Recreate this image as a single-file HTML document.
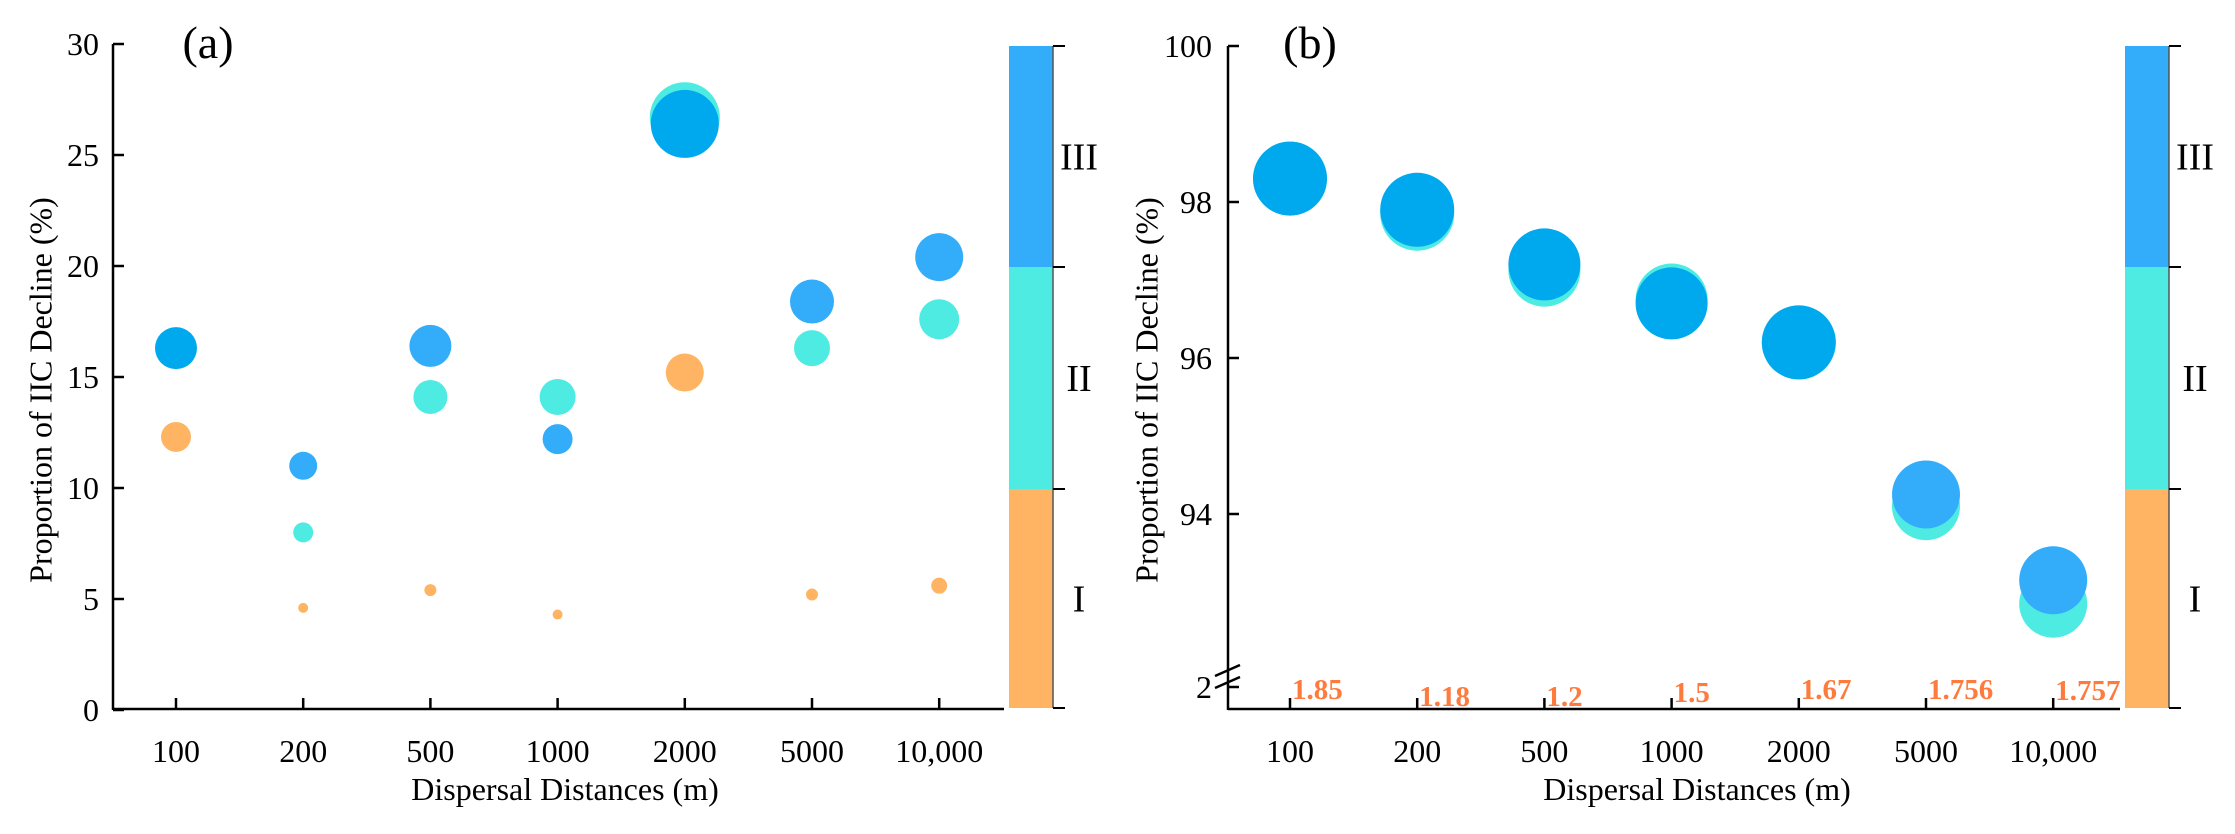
<!DOCTYPE html>
<html><head><meta charset="utf-8"><style>
body{margin:0;background:#fff;}
svg{display:block;font-family:"Liberation Serif",serif;}
</style></head><body>
<svg id="chart" width="2235" height="834" xmlns="http://www.w3.org/2000/svg"></svg>
<script>
const categories = ["100","200","500","1000","2000","5000","10,000"];
const aOrange = [12.3, 4.6, 5.4, 4.3, 15.2, 5.2, 5.6];
const aOrangeR = [15, 5, 6, 5, 19, 6, 8];
const aTeal = [null, 8.0, 14.1, 14.1, 26.7, 16.3, 17.6];
const aTealR = [0, 10, 17, 18, 35, 18, 20];
const aBlue = [16.3, 11.0, 16.4, 12.2, 26.4, 18.4, 20.4];
const aBlueR = [21, 14, 21, 15, 34, 22, 24];
const aTicks = [0, 5, 10, 15, 20, 25, 30];
const bTeal = [98.3, 97.85, 97.12, 96.75, 96.2, 94.1, 92.85];
const bBlue = [98.3, 97.9, 97.2, 96.7, 96.2, 94.25, 93.15];
const bR = [37, 37, 36, 36, 37, 34, 34];
const bTicks = [94, 96, 98, 100];
const bLabels = ["1.85","1.18","1.2","1.5","1.67","1.756","1.757"];
const bLabelDy = [0, 7, 7, 3, 0, 0, 1];

const NS = "http://www.w3.org/2000/svg";
const svg = document.getElementById("chart");
function mk(tag, attrs, parent){const e=document.createElementNS(NS,tag);for(const k in attrs)e.setAttribute(k,attrs[k]);(parent||svg).appendChild(e);return e;}
function txt(s, attrs){const e=mk("text",attrs);e.textContent=s;return e;}

const C_BLUE="#33ADFA", C_DBLUE="#00A8EE", C_TEAL="#4EEBE3", C_OR="#FFB463";
const FS=32;

const ax = i => 176 + i*127.2;
const ay = v => 710 - v*22.2;
const bx = i => 1290 + i*127.2;
const by = v => 358 - (v-96)*78;

function axes(x0, xEnd, topY, label, cx){
  let l=mk("line",{x1:x0,y1:topY,x2:x0,y2:710,stroke:"#000","stroke-width":2.5});
  
  
  l=mk("line",{x1:x0,y1:709,x2:xEnd,y2:709,stroke:"#000","stroke-width":2.5});
  
  
  let t=txt(label,{x:cx,y:58,"font-size":46,"text-anchor":"middle"});
  
  
}

// ---- Panel A ----
axes(113, 1004, 44, "(a)", 208);
aTicks.forEach(v=>{
  const tk=mk("line",{x1:113,y1:ay(v),x2:124,y2:ay(v),stroke:"#000","stroke-width":2.5});
  
  
  const t=txt(String(v),{x:99,y:ay(v)+11,"font-size":FS,"text-anchor":"end"});
  
  
});
categories.forEach((c,i)=>{
  const tk=mk("line",{x1:ax(i),y1:709,x2:ax(i),y2:698,stroke:"#000","stroke-width":2.5});
  
  
  const t=txt(c,{x:ax(i),y:762,"font-size":FS,"text-anchor":"middle"});
  
  
  const o=mk("circle",{cx:ax(i),cy:ay(aOrange[i]),r:aOrangeR[i],fill:C_OR});
  
  
  if(aTeal[i]!==null){
    const tc=mk("circle",{cx:ax(i),cy:ay(aTeal[i]),r:aTealR[i],fill:C_TEAL});
    
    
  }
  const b=mk("circle",{cx:ax(i),cy:ay(aBlue[i]),r:aBlueR[i],fill:(i===0||i===4)?C_DBLUE:C_BLUE});
  
  
});
let t=txt("Proportion of IIC Decline (%)",{x:0,y:0,"font-size":FS,"text-anchor":"middle",transform:"translate(44,390) rotate(-90)","dominant-baseline":"middle"});


t=txt("Dispersal Distances (m)",{x:565,y:800,"font-size":FS,"text-anchor":"middle"});



// ---- Panel B ----
axes(1228, 2120, 46, "(b)", 1310);
bTicks.forEach(v=>{
  const tk=mk("line",{x1:1228,y1:by(v),x2:1239,y2:by(v),stroke:"#000","stroke-width":2.5});
  
  
  const t2=txt(String(v),{x:1212,y:by(v)+11,"font-size":FS,"text-anchor":"end"});
  
  
});
let bt=mk("line",{x1:1228,y1:687,x2:1239,y2:687,stroke:"#000","stroke-width":2.5});


t=txt("2",{x:1212,y:698,"font-size":FS,"text-anchor":"end"});


let br=mk("path",{d:"M1215,676 L1240,665 M1215,688 L1240,677",stroke:"#000","stroke-width":2.5,fill:"none"});


categories.forEach((c,i)=>{
  const tk=mk("line",{x1:bx(i),y1:709,x2:bx(i),y2:698,stroke:"#000","stroke-width":2.5});
  
  
  const t2=txt(c,{x:bx(i),y:762,"font-size":FS,"text-anchor":"middle"});
  
  
  const tc=mk("circle",{cx:bx(i),cy:by(bTeal[i]),r:bR[i],fill:C_TEAL});
  
  
  const b=mk("circle",{cx:bx(i),cy:by(bBlue[i]),r:bR[i],fill:(i>=5)?C_BLUE:C_DBLUE});
  
  
  const l=txt(bLabels[i],{x:bx(i)+2,y:699+bLabelDy[i],"font-size":29,"font-weight":"bold",fill:"#FF7A3D"});
  
  
});
t=txt("Proportion of IIC Decline (%)",{x:0,y:0,"font-size":FS,"text-anchor":"middle",transform:"translate(1150,390) rotate(-90)","dominant-baseline":"middle"});


t=txt("Dispersal Distances (m)",{x:1697,y:800,"font-size":FS,"text-anchor":"middle"});



// ---- Colorbars ----
function colorbar(x){
  const segs=[[46,267,C_BLUE,"III"],[267,489,C_TEAL,"II"],[489,708,C_OR,"I"]];
  segs.forEach(s=>{
    const r=mk("rect",{x:x,y:s[0],width:44,height:s[1]-s[0],fill:s[2]});
    
    
    const l=txt(s[3],{x:x+70,y:(s[0]+s[1])/2+13,"font-size":38,"text-anchor":"middle"});
    
    
  });
  const ln=mk("line",{x1:x+44,y1:46,x2:x+44,y2:708,stroke:"#555","stroke-width":1.5});
  
  
  [46,267,489,708].forEach(y=>{
    const tk=mk("line",{x1:x+44,y1:y,x2:x+56,y2:y,stroke:"#000","stroke-width":2});
    
    
  });
}
colorbar(1009);
colorbar(2125);
</script>
</body></html>
